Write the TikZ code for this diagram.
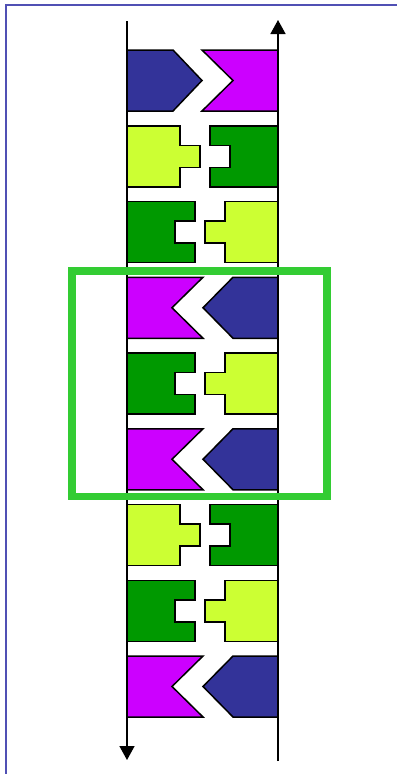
\documentclass[tikz,border=0pt]{standalone}
\usetikzlibrary{arrows.meta}
\definecolor{cblue}{HTML}{333399}
\definecolor{cmag}{HTML}{CC00FF}
\definecolor{cyel}{HTML}{CCFF33}
\definecolor{cgrn}{HTML}{009900}
\definecolor{cframe}{HTML}{5050B4}
\definecolor{cbox}{HTML}{33CC33}
\tikzset{
  piece/.style={draw=black, line width=1.5pt, line join=miter},
  axis/.style={draw=black, line width=1.5pt},
  pics/leftblue/.style={code={\path[piece,fill=cblue] (127,0)--(173,0)--(202,30.5)--(173,61)--(127,61)--cycle;}},
  pics/rightmag/.style={code={\path[piece,fill=cmag] (202,0)--(278,0)--(278,61)--(202,61)--(233,30.5)--cycle;}},
  pics/leftmag/.style={code={\path[piece,fill=cmag] (127,0)--(203,0)--(172,30.5)--(203,61)--(127,61)--cycle;}},
  pics/rightblue/.style={code={\path[piece,fill=cblue] (203,30.5)--(233,0)--(278,0)--(278,61)--(233,61)--cycle;}},
  pics/leftyel/.style={code={\path[piece,fill=cyel] (127,0)--(180,0)--(180,19.5)--(200,19.5)--(200,41.5)--(180,41.5)--(180,61)--(127,61)--cycle;}},
  pics/rightgrn/.style={code={\path[piece,fill=cgrn] (210,0)--(278,0)--(278,61)--(210,61)--(210,41.5)--(230,41.5)--(230,19.5)--(210,19.5)--cycle;}},
  pics/leftgrn/.style={code={\path[piece,fill=cgrn] (127,0)--(195,0)--(195,19.5)--(175,19.5)--(175,41.5)--(195,41.5)--(195,61)--(127,61)--cycle;}},
  pics/rightyel/.style={code={\path[piece,fill=cyel] (225,0)--(278,0)--(278,61)--(225,61)--(225,41.5)--(205,41.5)--(205,19.5)--(225,19.5)--cycle;}},
}
\begin{document}
\begin{tikzpicture}[x=1pt,y=-1pt]
\useasboundingbox (0,0) rectangle (397,774);
\draw[cframe, line width=1.2pt] (6,774) -- (6,5) -- (397,5);
% rows
\pic at (0,50) {leftblue};   \pic at (0,50) {rightmag};
\pic at (0,125.75) {leftyel}; \pic at (0,125.75) {rightgrn};
\pic at (0,201.5) {leftgrn};  \pic at (0,201.5) {rightyel};
\pic at (0,277.25) {leftmag}; \pic at (0,277.25) {rightblue};
\pic at (0,353) {leftgrn};    \pic at (0,353) {rightyel};
\pic at (0,428.75) {leftmag}; \pic at (0,428.75) {rightblue};
\pic at (0,504.5) {leftyel};  \pic at (0,504.5) {rightgrn};
\pic at (0,580.25) {leftgrn}; \pic at (0,580.25) {rightyel};
\pic at (0,656) {leftmag};    \pic at (0,656) {rightblue};
% axes
\coordinate (ltop) at (127,21);
\coordinate (lbot) at (127,760);
\coordinate (rbot) at (278,761);
\coordinate (rtop) at (278,20);
\draw[axis, -{Triangle[width=15pt,length=14pt]}] (ltop) -- (lbot);
\draw[axis, -{Triangle[width=15pt,length=14pt]}] (rbot) -- (rtop);
% highlight box
\draw[cbox, line width=7.5pt] (72,271) rectangle (327,496.5);
\end{tikzpicture}
\end{document}
